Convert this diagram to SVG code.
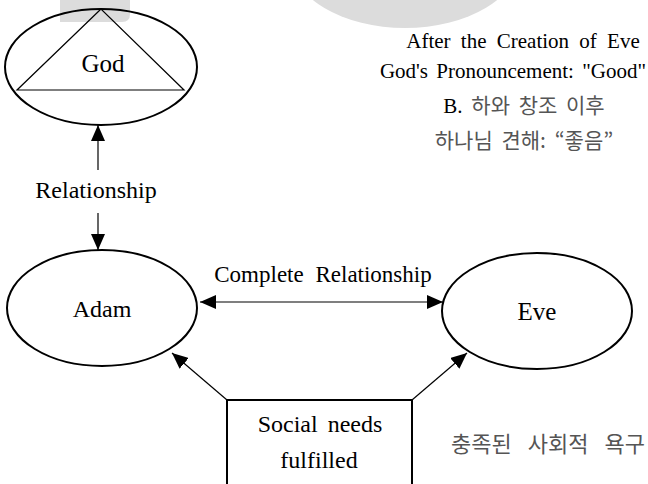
<svg xmlns="http://www.w3.org/2000/svg" width="648" height="484" viewBox="0 0 648 484">
<defs>
<style>
.shape{fill:none;stroke:#000;stroke-width:2}
.thin{fill:none;stroke:#000;stroke-width:1.2}
.lbl{font-family:"Liberation Serif","Times New Roman",serif;font-size:24px;fill:#000;text-anchor:middle}
.note{font-family:"Liberation Serif","Times New Roman",serif;font-size:21px;fill:#000;text-anchor:middle;word-spacing:5px}
.ko{font-family:"Noto Sans CJK KR","Liberation Sans",sans-serif;font-size:21px;fill:#555;text-anchor:middle;word-spacing:4px}
.wm{fill:#dcdcdc}
</style>
<marker id="ah" viewBox="0 0 16 14" refX="16" refY="7" markerWidth="16" markerHeight="14" markerUnits="userSpaceOnUse" orient="auto-start-reverse">
<path d="M0,0 L16,7 L0,14 Z" fill="#000"/>
</marker>
</defs>
<rect width="648" height="484" fill="#fff"/>
<g id="watermark">
<path class="wm" d="M60,0 H130 V14 Q130,22 122,22 H60 Z"/>
<ellipse class="wm" cx="405" cy="-40" rx="114" ry="68"/>
</g>
<g id="god">
<ellipse class="shape" cx="101" cy="67" rx="96" ry="58"/>
<polygon class="thin" points="101,9 17,90 184,90"/>
<text class="lbl" x="103" y="72" style="font-size:25px">God</text>
</g>
<g id="adam">
<ellipse class="shape" cx="102" cy="308" rx="95" ry="58"/>
<text class="lbl" x="102" y="317">Adam</text>
</g>
<g id="eve">
<ellipse class="shape" cx="537" cy="311" rx="95" ry="58"/>
<text class="lbl" x="537" y="320" style="font-size:25px">Eve</text>
</g>
<g id="social">
<rect class="shape" x="227" y="400" width="185" height="100"/>
<text class="lbl" x="320" y="432" style="word-spacing:4px">Social needs</text>
<text class="lbl" x="319" y="468">fulfilled</text>
</g>
<g id="notes">
<text class="note" x="523" y="48">After the Creation of Eve</text>
<text class="note" x="646" y="78" style="text-anchor:end;word-spacing:3px">God's Pronouncement: "Good"</text>
<text class="ko" x="524" y="113"><tspan font-family="Liberation Serif, serif" fill="#000">B.</tspan> 하와 창조 이후</text>
<text class="ko" x="524" y="148">하나님 견해: “좋음”</text>
<text class="ko" x="548" y="452" style="font-size:22px;word-spacing:11px">충족된 사회적 욕구</text>
</g>
<g id="connectors">
<line class="thin" x1="98" y1="170" x2="98" y2="125" marker-end="url(#ah)"/>
<line class="thin" x1="98" y1="213" x2="98" y2="250" marker-end="url(#ah)"/>
<text class="lbl" x="96" y="198">Relationship</text>
<line class="thin" x1="200" y1="302" x2="443" y2="302" marker-start="url(#ah)" marker-end="url(#ah)"/>
<text class="lbl" x="323" y="282" style="font-size:23px;word-spacing:6px">Complete Relationship</text>
<line class="thin" x1="227" y1="400" x2="172" y2="353" marker-end="url(#ah)"/>
<line class="thin" x1="412" y1="400" x2="467" y2="353" marker-end="url(#ah)"/>
</g>
</svg>
